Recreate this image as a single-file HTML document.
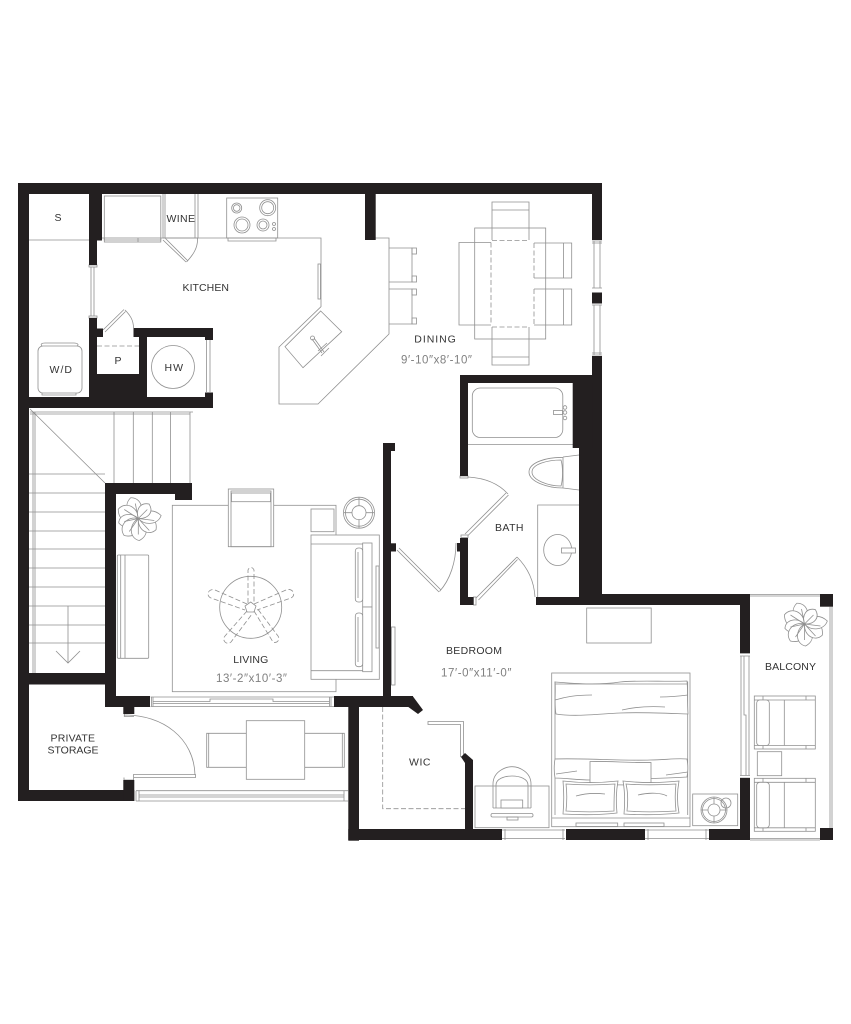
<!DOCTYPE html>
<html><head><meta charset="utf-8"><style>
html,body{margin:0;padding:0;background:#fff}
svg{display:block}
text{font-family:"Liberation Sans",sans-serif;font-size:10.5px;fill:#333;text-anchor:start}
.d{font-size:11.5px;fill:#808080}
.l{fill:none;stroke:#909090;stroke-width:.8}
.f{fill:#fff;stroke:#909090;stroke-width:.8}
.n{fill:none;stroke:#909090;stroke-width:.8;stroke-dasharray:5 2.5}
.w{fill:#231f20;stroke:none}
</style></head><body>
<svg width="851" height="1024" viewBox="0 0 851 1024" xmlns="http://www.w3.org/2000/svg">
<defs>
<g id="plant">
<path class="f" d="M0 0C-10-5-11-17-2-22C8-20 9-6 0 0Z" transform="rotate(-15)"/>
<path class="f" d="M0 0C-11-5-12-16-2-22C9-20 10-6 0 0Z" transform="rotate(-60)"/>
<path class="f" d="M0 0C-9-5-9-15-1-20C8-18 8-6 0 0Z" transform="rotate(-100)"/>
<path class="f" d="M0 0C-11-5-12-16-2-22C9-20 10-6 0 0Z" transform="rotate(-135)"/>
<path class="f" d="M0 0C-10-5-11-17-1-22C9-20 10-6 0 0Z" transform="rotate(180)"/>
<path class="f" d="M0 0C-10-5-11-16-1-21C9-19 10-6 0 0Z" transform="rotate(125)"/>
<path class="f" d="M0 0C-8-5-9-16-1-23C8-19 8-6 0 0Z" transform="rotate(85)"/>
<path class="f" d="M0 0C-8-5-9-14-1-18C8-15 8-6 0 0Z" transform="rotate(40)"/>
<path class="l" d="M0 0L-3-15M0 0L-14-9M0 0L-14 3M0 0L-9 13M0 0L0 16M0 0L11 12M0 0L16 2M0 0L9-9"/>
</g>
<g id="chairB">
<rect class="f" x="754.3" y="0" width="61" height="53"/>
<path class="l" d="M754.3 4H815.3M754.3 49.5H815.3M784.3 4V49.5M763 0V4M763 49.5V53M806 0V4M806 49.5V53"/>
<rect class="f" x="756.7" y="4" width="12.6" height="45.5" rx="3"/>
</g>
</defs>

<!-- STAIRS -->
<path class="l" d="M30 409L105 483M33 412V673M35 412V673M30 412H193M30 414H190M114 412V483M133.300 412V483M152.300 412V483M170.600 412V483M190 412V483"/>
<path class="l" d="M29 474H105M29 493H105M29 512H105M29 531H105M29 549H105M29 568H105M29 587H105M29 606H105M29 625H105M29 643H105M68 606V663M56 651L68 663L80 651"/>

<!-- KITCHEN -->
<path class="l" d="M29 240H89M102 238H321V306.700L279 347V404H318L389 334V238H375"/>
<rect class="f" x="318" y="264" width="2.500" height="35"/>
<rect class="f" x="104.300" y="196" width="56.500" height="44"/>
<rect class="l" x="104.300" y="238" width="56.500" height="4"/>
<path class="l" d="M138 238V242"/>
<path class="l" d="M163 194V238H198V194M165 194V238M195 194V238"/>
<path class="l" d="M163 240L186 262M165.500 238.500L188 261M186.500 262C193 255 198 248 197.500 238"/>
<rect class="l" x="226.700" y="198" width="51" height="40"/>
<path class="l" d="M228 238V241H276V238"/>
<circle class="l" cx="236.700" cy="208" r="5"/><circle class="l" cx="236.700" cy="208" r="3.300"/>
<circle class="l" cx="267.700" cy="207.700" r="8"/><circle class="l" cx="267.700" cy="207.700" r="6"/>
<circle class="l" cx="242" cy="225" r="8"/><circle class="l" cx="242" cy="225" r="6"/>
<circle class="l" cx="263" cy="225" r="6"/><circle class="l" cx="263" cy="225" r="4"/>
<circle class="l" cx="274" cy="224" r="1.500"/><circle class="l" cx="274" cy="229" r="1.500"/>
<path class="l" d="M320.700 311L341.700 331.700L303 367.700L285 346.700Z"/>
<path class="l" d="M312 339L322 353M314 338L324 352M318 351L327 343M321 356L329 348"/>
<circle class="l" cx="312.500" cy="338" r="2"/>
<!-- W/D -->
<rect class="l" x="38" y="346" width="44" height="47" rx="5"/>
<path class="l" d="M42 346C40 344 42 343 45 343H74C78 343 79 345 77 346M42 393V395H76V393"/>
<!-- laundry door -->
<path class="l" d="M91 265.500V318.500M94 265.500V318.500"/>
<rect class="f" x="89" y="265" width="8" height="2"/><rect class="f" x="89" y="316" width="8" height="2"/>
<path class="l" d="M103 330L124 309.500M105 332L125.500 311.500M125 310C130 315 133.500 320 133.500 328"/>
<path class="n" d="M97 346H139"/>
<!-- HW -->
<circle class="l" cx="173" cy="367" r="21.500"/>
<path class="l" d="M206.500 340V392M210 340V392"/>

<!-- STOOLS -->
<path class="l" d="M389 248H412V282H389M389 289H412V324H389"/>
<rect class="l" x="412" y="248" width="4.500" height="6"/><rect class="l" x="412" y="276" width="4.500" height="6"/>
<rect class="l" x="412" y="289" width="4.500" height="6"/><rect class="l" x="412" y="318" width="4.500" height="6"/>

<!-- DINING -->
<rect class="l" x="474.700" y="228" width="71" height="111"/>
<path class="l" d="M492 240V202H529V240M492 210H529"/>
<path class="n" d="M492 240.600H529"/>
<path class="l" d="M491 242.500H459V325H491"/>
<path class="n" d="M491 242.500V325"/>
<path class="l" d="M534 243H571.700V278H534M563.500 243V278M534 289H571.700V325H534M563.500 289V325"/>
<path class="n" d="M534 243V278M534 289V325"/>
<path class="l" d="M492 327V365H529V327M492 357H529"/>
<path class="n" d="M492 327H529"/>
<!-- dining windows -->
<path class="l" d="M592 241H602M592 288H602M592 305H602M592 355H602M594 241V288M600 241V288M594 305V355M600 305V355M592 243H602M592 353H602"/>

<!-- BATH -->
<rect class="l" x="472.300" y="388" width="90.500" height="49.500" rx="8"/>
<path class="l" d="M468 444.500H573"/>
<rect class="l" x="553.500" y="410.500" width="9" height="4"/>
<circle class="l" cx="565" cy="407.500" r="1.800"/><circle class="l" cx="565" cy="412.500" r="1.800"/><circle class="l" cx="565" cy="418" r="1.800"/>
<path class="l" d="M563 457L579 455M563 488L579 490M563 457V488"/>
<path class="l" d="M563 457.500C548 457 529 462 529 472C529 482 548 488 563 488"/>
<path class="l" d="M561 460C548 460 532 464 532 472C532 480 548 486 561 486C563 480 563 466 561 460Z"/>
<path class="l" d="M537.700 597V505H579"/>
<ellipse class="l" cx="557.700" cy="550" rx="14" ry="15.500"/>
<rect class="f" x="561.500" y="548" width="14" height="5"/>
<rect class="f" x="460" y="476" width="8" height="2"/>
<path class="l" d="M468 477C485 478 499 484 508 494M506 493L465 534M508.500 495L467.500 536"/>
<rect class="f" x="461" y="535" width="7" height="2.500"/>
<path class="l" d="M476 598L517 557M478.500 600L517.500 559.500M517 557C527 567 534 580 535 597"/>
<rect class="f" x="473.500" y="597" width="2.500" height="8"/>
<!-- BEDROOM DOOR -->
<path class="l" d="M397 550L439 592M399 548L441 590M439.500 591.500C450 580 456 562 456 543"/>

<!-- LIVING -->
<rect class="l" x="172.300" y="505.300" width="163.700" height="186.400"/>
<rect class="f" x="228.300" y="489" width="45.400" height="57.700"/>
<rect class="l" x="231" y="491" width="40" height="55.700"/>
<rect class="f" x="231.500" y="493" width="39" height="8.700"/>
<rect class="f" x="311" y="509" width="23" height="22.700"/>
<circle class="l" cx="359" cy="512.700" r="15.500"/><circle class="l" cx="359" cy="512.700" r="13.500"/><circle class="l" cx="359" cy="512.700" r="7"/>
<path class="l" d="M359 497.500V505.500M359 520V528M344 512.700H352M366 512.700H374"/>
<rect class="f" x="311" y="535" width="68.300" height="144.300"/>
<path class="l" d="M311 544H372M311 670.700H372"/>
<rect class="f" x="362.700" y="543" width="9.300" height="64"/><rect class="f" x="362.700" y="607" width="9.300" height="64.700"/>
<rect class="f" x="355.300" y="548" width="7.400" height="54" rx="3"/><rect class="f" x="355.300" y="613" width="7.400" height="53.700" rx="3"/>
<path class="l" d="M358 552V598M358 617V662"/>
<rect class="f" x="376" y="566" width="3" height="82"/>
<rect class="l" x="391.500" y="627" width="3.500" height="58"/>
<circle class="l" cx="250.700" cy="607.300" r="31"/>
<path class="n" d="M248 603V570A3.500 5 0 0 1 254 570V603"/>
<path class="n" d="M247 604L215 590A4 3.500 0 0 0 211 598L245 610"/>
<path class="n" d="M254 604L286 590A4 3.500 0 0 1 291 598L257 610"/>
<path class="n" d="M247 611L225 636A4 4 0 0 0 231 642L252 614"/>
<path class="n" d="M254 611L273 642A4 4 0 0 0 278 636L257 608"/>
<path class="l" d="M250.700 602L256 606L254 612H247L245 606Z"/>
<use href="#plant" x="138.300" y="518.500"/>
<rect class="l" x="117.300" y="555" width="31.400" height="103.300" rx="1"/>
<path class="l" d="M120.700 555V658M125 555V658"/>

<!-- PATIO -->
<path class="l" d="M150.500 697H334M150.500 706.500H334M151.500 697V706.500M153 697V706.500M329.500 697V706.500M331 697V706.500M153 701.500H210V699H273V701.500H329.500M153 703.500H329.500"/>
<path class="l" d="M136 790.700H348M136 801H348M136 790.700V801M139 790.700V801M344 790.700V801M139 795H344M139 797H344"/>
<path class="l" d="M124.500 715C163 715 194 738 195 775M124.300 714V716.500H134M133.500 780V774.500H195.500V777.500H134"/>
<path class="l" d="M124 777.500V780H134"/>
<rect class="f" x="246.300" y="720.700" width="58.400" height="58.600"/>
<path class="l" d="M246.300 733.300H206.700V767.300H246.300M208.700 733.300V767.300M304.700 733.300H344.300V767.300H304.700M342.300 733.300V767.300"/>

<!-- BEDROOM furniture -->
<rect class="l" x="586.700" y="608" width="64.500" height="35"/>
<rect class="l" x="551.700" y="673" width="138.300" height="153.700"/>
<path class="l" d="M555 681.500V815M687.700 681.500V815M551.700 818H690"/>
<path class="f" d="M555 682C580 684 600 685 620 682C640 680 665 682 687 681C688 690 687 700 688 714C660 713 640 712 620 713C598 714 575 717 556 714C554 705 556 690 555 682Z"/>
<path class="l" d="M555 684H688M555 700C565 697 575 695 592 695M660 697C670 697 680 696 688 695M622 710C635 707 650 706 665 707"/>
<path class="f" d="M555 759C585 758 620 761 650 760C665 760 675 758 687 759C688 765 688 772 687 777C660 779 620 779 590 780C578 780 565 778 555 778C554 772 554 765 555 759Z"/>
<path class="l" d="M556 774L577 771M666 775L688 772"/>
<path class="f" d="M590 761.500C610 761 630 763 651 762.500L651 786C630 785 610 784 590 786Z"/>
<path class="f" d="M563 781C580 783 600 783 618 781C616 792 616 804 617 813C600 815 580 815 563 814C564 803 564 792 563 781Z"/>
<path class="l" d="M566 784C580 785 600 785 615 784C614 792 614 802 614 811C600 812 580 812 566 811C567 802 567 792 566 784Z"/>
<path class="l" d="M576 796C586 793 596 793 605 794"/>
<path class="f" d="M623 781C640 783 660 783 679 781C677 792 677 803 679 813C660 815 640 815 624 814C625 803 625 792 623 781Z"/>
<path class="l" d="M626 784C640 785 660 785 676 784C675 792 675 802 676 811C660 812 640 812 627 811C628 802 628 792 626 784Z"/>
<path class="l" d="M638 795C650 792 662 793 667 796"/>
<rect class="l" x="576" y="823" width="41.700" height="3.500"/><rect class="l" x="624" y="823" width="40" height="3.500"/>
<rect class="l" x="475" y="786" width="74" height="41.700"/>
<path class="l" d="M493 808V784C493 772 505 766.700 512 766.700C519 766.700 531 772 531 784V808M496 808V785C496 779 504 776 512 776C520 776 528 779 528 785V808M493 808H531"/>
<rect class="f" x="501" y="800" width="21.700" height="8"/>
<rect class="l" x="491" y="813.500" width="42" height="3.500" rx="1.500"/>
<rect class="l" x="507" y="817" width="11" height="3"/>
<rect class="l" x="692.700" y="794" width="45" height="31.700"/>
<circle class="l" cx="714" cy="810" r="13"/><circle class="l" cx="714" cy="810" r="11.500"/><circle class="l" cx="714" cy="810" r="6"/>
<path class="l" d="M714 797V804M714 816V823M701 810H708M720 810H727"/>
<circle class="l" cx="726" cy="803" r="5"/>

<!-- WIC -->
<path class="n" d="M382.700 707V808.700H465"/>
<path class="f" d="M428 721.500H463.500V756.700H460.500V724.500H428Z"/>

<!-- BALCONY -->
<path class="l" d="M750 594.500H820M750 596H820M830 606.700V828M832 606.700V828M750 840H820M750 838.500H820"/>
<path class="l" d="M741 656V775.500M744 656V715H746V775.500M749 656V775.500M740 653.500H750M740 656H750M740 775.500H750M740 778H750"/>
<use href="#plant" x="804.500" y="624"/>
<use href="#chairB" x="0" y="696"/>
<rect class="f" x="757.300" y="751.700" width="24.400" height="24"/>
<use href="#chairB" x="0" y="778.300"/>

<!-- BEDROOM windows -->
<path class="l" d="M502 830H565M502 838.500H565M505 829V840M563 829V840M645 830H709M645 838.500H709M648 829V840M706 829V840"/>

<!-- WALLS -->
<g class="w">
<rect x="18" y="183" width="584" height="11"/>
<rect x="18" y="183" width="11" height="618"/>
<rect x="89" y="194" width="13" height="46.500"/>
<rect x="89" y="194" width="8" height="71"/>
<rect x="89" y="318" width="8" height="90"/>
<rect x="97" y="328.500" width="6" height="8.500"/>
<rect x="133.500" y="328" width="79.500" height="9"/>
<rect x="139" y="337" width="8" height="60"/>
<rect x="97" y="374" width="50" height="23"/>
<rect x="205" y="337" width="8" height="3"/>
<rect x="205" y="392.500" width="8" height="15.500"/>
<rect x="18" y="397" width="195" height="11"/>
<rect x="365" y="194" width="10.700" height="46"/>
<rect x="592" y="183" width="10" height="57"/>
<rect x="592" y="292.500" width="10" height="11"/>
<rect x="592" y="356" width="10" height="249"/>
<rect x="460" y="375" width="132" height="8"/>
<rect x="460" y="375" width="8" height="101"/>
<rect x="460" y="538" width="8" height="67"/>
<rect x="457" y="543" width="3" height="8.500"/>
<rect x="460" y="597" width="13.500" height="8"/>
<rect x="572.700" y="383" width="20" height="65"/>
<rect x="579" y="448" width="14" height="157"/>
<rect x="536" y="597" width="66" height="8"/>
<rect x="602" y="594" width="148" height="11"/>
<rect x="740" y="594" width="10" height="59"/>
<rect x="740" y="778" width="10" height="62"/>
<rect x="820" y="594" width="13" height="12.700"/>
<rect x="820" y="828" width="13" height="12"/>
<rect x="105" y="483" width="11" height="224"/>
<rect x="105" y="483" width="87" height="11"/>
<rect x="175" y="483" width="17" height="17"/>
<rect x="18" y="673" width="87" height="11.500"/>
<rect x="105" y="696" width="45" height="11"/>
<rect x="123.300" y="707" width="11" height="7"/>
<rect x="18" y="790" width="116.300" height="11"/>
<rect x="123.300" y="780" width="11" height="21"/>
<rect x="348.300" y="696" width="10.700" height="144.700"/>
<rect x="334" y="696" width="79" height="11"/>
<polygon points="411,696.500 413,696.500 423,710 418,714 408,706.700"/>
<rect x="383" y="443" width="8" height="254"/>
<rect x="383" y="443" width="12" height="8"/>
<rect x="391" y="543.300" width="5" height="8.200"/>
<rect x="348.300" y="829" width="153.700" height="11"/>
<polygon points="465,753 473,760 473,829 465,829 465,763 461,757"/>
<rect x="566" y="829" width="79" height="11"/>
<rect x="709" y="829" width="41" height="11"/>
</g>

<!-- LABELS -->
<text x="54.500" y="221">S</text>
<text x="166.500" y="222" textLength="28.500">WINE</text>
<text x="182.500" y="291" textLength="46.500">KITCHEN</text>
<text x="49.500" y="373" textLength="22.500">W/D</text>
<text x="114.500" y="364">P</text>
<text x="164.500" y="371" textLength="18.500">HW</text>
<text x="414.300" y="342.500" textLength="41.500">DINING</text>
<text class="d" x="401" y="363.500" textLength="71">9′-10″x8′-10″</text>
<text x="233.300" y="663" textLength="35">LIVING</text>
<text class="d" x="216" y="682" textLength="71">13′-2″x10′-3″</text>
<text x="495" y="531" textLength="28.500">BATH</text>
<text x="446" y="654" textLength="56">BEDROOM</text>
<text class="d" x="441" y="676.500" textLength="70.500">17′-0″x11′-0″</text>
<text x="409" y="765.700" textLength="21.500">WIC</text>
<text x="765" y="670" textLength="51">BALCONY</text>
<text x="50.500" y="741.500" textLength="44.500">PRIVATE</text>
<text x="47.500" y="753.500" textLength="51">STORAGE</text>
</svg>
</body></html>
